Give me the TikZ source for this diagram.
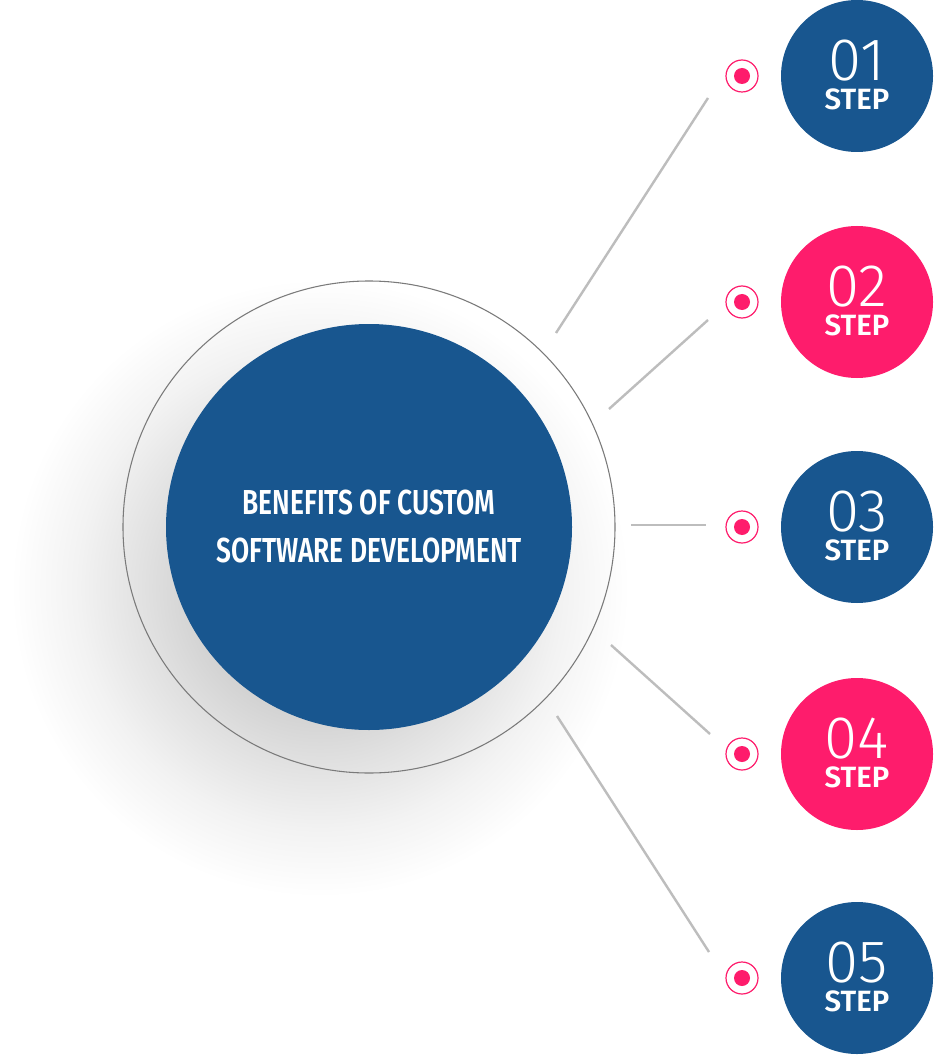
\documentclass[tikz,border=0pt]{standalone}
\usepackage{fontspec}
\setmainfont{Fira Sans}
\newfontfamily\numfont{Fira Sans Light}
\newfontfamily\stepfont{Fira Sans SemiBold}
\newfontfamily\condfont[FakeStretch=0.76]{Fira Sans SemiBold}
\definecolor{mainblue}{HTML}{18568F}
\definecolor{mainpink}{HTML}{FE1C6C}
\definecolor{linegray}{HTML}{BDBDBD}
\definecolor{ringgray}{HTML}{7A7A7A}
\pgfdeclareradialshading{shadowsh}{\pgfpoint{0bp}{0bp}}{color(0bp)=(black!20); color(9bp)=(black!18); color(13bp)=(black!12); color(18bp)=(black!5); color(23bp)=(white); color(50bp)=(white)}
\tikzset{
  stepcircle/.style={circle, minimum size=114pt, inner sep=0pt},
  steplabel/.style={text=white, align=center, inner sep=0pt, font=\fontsize{22pt}{22pt}\selectfont\stepfont},
  dotring/.style={circle, draw=mainpink, line width=0.9pt, minimum size=24pt, inner sep=0pt, fill=white},
  dotin/.style={circle, fill=mainpink, minimum size=12pt, inner sep=0pt},
  conn/.style={draw=linegray, line width=1.8pt},
}
\begin{document}
\begin{tikzpicture}[x=0.75pt, y=-0.75pt]
\fill[white] (0,0) rectangle (937,1055);
\useasboundingbox (0,0) rectangle (937,1055);
% shadow
\shade[shading=shadowsh] (320,588) circle [radius=252pt];
% ring and main circle
\node[circle, draw=ringgray, line width=0.8pt, minimum size=369pt, inner sep=0pt] (ring) at (369,527) {};
\node[circle, fill=mainblue, minimum size=304.5pt, inner sep=0pt] (core) at (369,527) {};
\node[text=white, font=\fontsize{26pt}{36pt}\selectfont\condfont, align=center] (title) at (369,527) {BENEFITS OF CUSTOM\\SOFTWARE DEVELOPMENT};
% steps
\foreach \i/\y/\c in {1/76/mainblue, 2/302/mainpink, 3/527/mainblue, 4/754/mainpink, 5/978/mainblue}{
  \node[stepcircle, fill=\c] (s\i) at (857,\y) {};
  \node[steplabel] (n\i) at (857,\y-1) {{\fontsize{45pt}{22pt}\selectfont\numfont 0\i}\\STEP};
  \node[dotring] (d\i) at (742,\y) {};
  \node[dotin] (di\i) at (742,\y) {};
}
% connectors
\coordinate (a1) at (556,333); \coordinate (b1) at (708,98);
\coordinate (a2) at (609,409); \coordinate (b2) at (708,320);
\coordinate (a3) at (631,525); \coordinate (b3) at (706,525);
\coordinate (a4) at (611,645); \coordinate (b4) at (710,734);
\coordinate (a5) at (557,716); \coordinate (b5) at (709,952);
\foreach \i in {1,...,5}{ \draw[conn] (a\i) -- (b\i); }
\end{tikzpicture}
\end{document}
